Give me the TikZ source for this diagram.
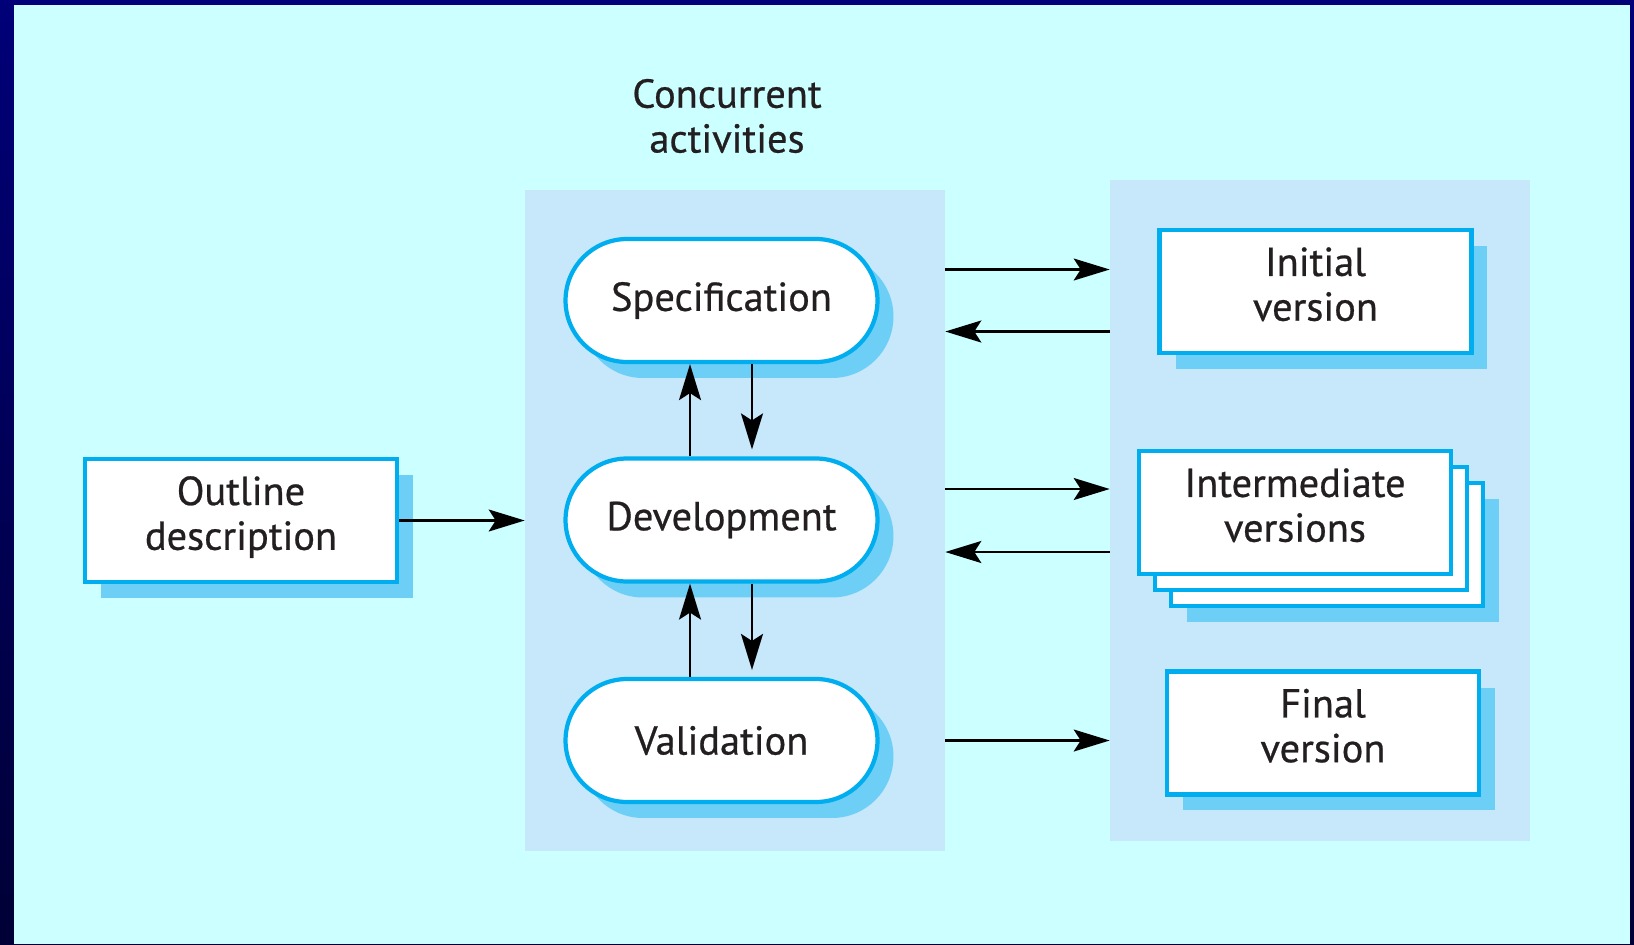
\documentclass[tikz,border=0pt]{standalone}
\usepackage{fontspec}
\setmainfont{PT Sans}[FakeBold=0.6]
\usetikzlibrary{arrows.meta,shadows}
\definecolor{bgcyan}{RGB}{204,255,255}
\definecolor{panelblue}{RGB}{198,232,250}
\definecolor{shadeblue}{RGB}{109,207,246}
\definecolor{lineblue}{RGB}{0,174,239}
\definecolor{frame}{RGB}{0,0,120}
\definecolor{ink}{RGB}{35,31,32}

\begin{document}
\begin{tikzpicture}[x=0.02cm,y=-0.02cm,
    font=\fontsize{23}{25.5}\selectfont, text=ink,
    panel/.style={fill=panelblue, inner sep=0pt, minimum width=8.4cm, minimum height=13.22cm},
    plainbox/.style={draw=lineblue, line width=2.4pt, fill=white, align=center,
        minimum width=6.24cm, minimum height=2.46cm, inner sep=0pt},
    shadowed/.style={drop shadow={shadow xshift=0.32cm, shadow yshift=-0.32cm, fill=shadeblue, opacity=1}},
    box/.style={plainbox, shadowed, text depth=0.3cm},
    act/.style={plainbox, shadowed, rounded corners=1.23cm},
    stack/.style={plainbox, text depth=0.3cm,
        general shadow={shadow xshift=0.96cm, shadow yshift=-0.96cm, fill=shadeblue},
        general shadow={shadow xshift=0.64cm, shadow yshift=-0.64cm, fill=white, draw=lineblue, line width=2.4pt},
        general shadow={shadow xshift=0.32cm, shadow yshift=-0.32cm, fill=white, draw=lineblue, line width=2.4pt}},
    flow/.style={draw=black, line width=1.3pt, -{Stealth[length=0.72cm,width=0.44cm,inset=0.14cm]}}]

    % frame and background
    \useasboundingbox (0,0) rectangle (1634,944);
    \shade[top color=frame, bottom color=frame!45!black] (0,0) rectangle (1634,944);
    \fill[bgcyan] (14,5) rectangle (1630,944);

    % panels
    \node[panel] (conc) at (735,520.5) {};
    \node[panel] (out) at (1320,510.5) {};
    \node[align=center] (title) at (727,116) {Concurrent\\activities};

    % activities
    \node[act] (spec) at (721.5,300.5) {Specification};
    \node[act] (dev) at (721.5,520) {Development};
    \node[act] (val) at (721.5,740.5) {Validation};

    % versions
    \node[box] (outline) at (241,520.5) {Outline\\description};
    \node[box] (init) at (1315.5,291.5) {Initial\\version};
    \node[stack] (inter) at (1295,512.5) {Intermediate\\versions};
    \node[box] (final) at (1323,733) {Final\\version};

    \path (spec) ++(0,-31) coordinate (s-out) (spec) ++(0,31) coordinate (s-in)
          (dev) ++(0,-31) coordinate (d-out) (dev) ++(0,32) coordinate (d-in);

    \draw[flow] (outline.east) -- (conc.west |- outline);
    \draw[flow] (conc.east |- s-out) -- (out.west |- s-out);
    \draw[flow] (out.west |- s-in) -- (conc.east |- s-in);
    \draw[flow] (conc.east |- d-out) -- (out.west |- d-out);
    \draw[flow] (out.west |- d-in) -- (conc.east |- d-in);
    \draw[flow] (conc.east |- val) -- (out.west |- val);

    \draw[flow] ([xshift=-0.63cm]dev.north) -- ([xshift=-0.63cm]spec.south);
    \draw[flow, shorten >=0.14cm] ([xshift=0.61cm]spec.south) -- ([xshift=0.61cm]dev.north);
    \draw[flow] ([xshift=-0.63cm]val.north) -- ([xshift=-0.63cm]dev.south);
    \draw[flow, shorten >=0.14cm] ([xshift=0.61cm]dev.south) -- ([xshift=0.61cm]val.north);
\end{tikzpicture}
\end{document}
